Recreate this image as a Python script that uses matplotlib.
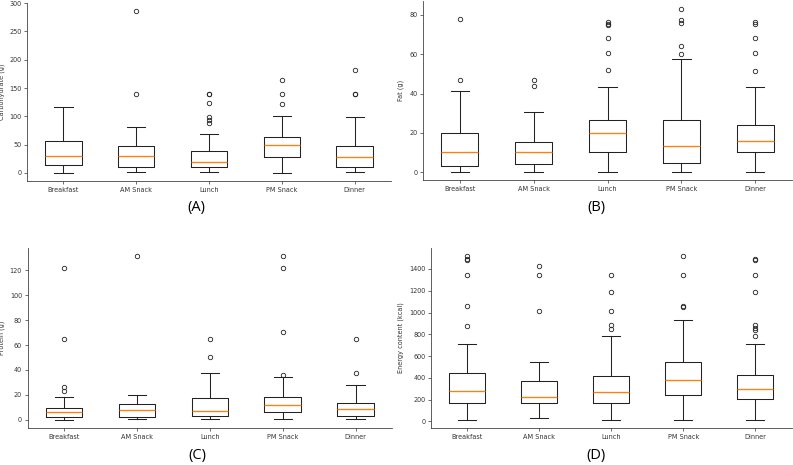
import matplotlib
matplotlib.use("Agg")
import matplotlib.pyplot as plt

meals = ["Breakfast", "AM Snack", "Lunch", "PM Snack", "Dinner"]

# (whislo, q1, median, q3, whishi) per meal, plus outliers
carb_box = [(0, 14, 30, 56.5, 116.7), (1, 11.3, 30, 47.6, 80.4), (1, 11, 19.6, 38.7, 69),
            (0, 28.6, 50, 64.3, 101), (1, 11, 28, 47.6, 99.4)]
carb_out = [[], [139, 286], [89, 93, 99, 124, 139, 140], [122.6, 139, 164.9], [139, 140, 182.7]]

fat_box = [(0, 3.05, 10.2, 20.2, 41.5), (0, 4.1, 10.5, 15.6, 30.5), (0, 10.2, 19.8, 26.4, 43.2),
           (0, 4.7, 13.2, 26.8, 57.6), (0, 10.2, 15.8, 24.1, 43.2)]
fat_out = [[46.9, 78], [43.7, 46.8], [52.2, 60.7, 68.3, 74.6, 75.6, 76.3],
           [60, 64, 75.9, 77.6, 82.9], [51.4, 60.7, 68.3, 75.6, 76.3]]

prot_box = [(0, 2.1, 6.2, 9.1, 18), (0.8, 2.1, 8.1, 12.6, 19.9), (0.8, 2.7, 7, 17.7, 37.6),
            (0.8, 6.2, 11.8, 18, 34.4), (0.8, 3, 8.6, 13.2, 27.9)]
prot_out = [[22.8, 26.6, 65, 122], [131.3], [50.2, 65], [35.7, 70.6, 122, 131.3], [37.6, 65]]

energy_box = [(15, 172.7, 280.6, 441, 709), (31, 172, 225, 373, 542.7), (15, 172, 274, 419, 786),
              (15, 243.6, 382, 549, 931), (15, 206.6, 302, 422, 709)]
energy_out = [[872, 1063, 1341, 1483, 1495, 1517], [1014, 1341, 1424], [851, 884, 1014, 1190, 1341],
              [1050, 1058, 1341, 1517], [783, 842, 860, 888, 1190, 1341, 1480, 1490]]

ylabels = ["Carbohydrate (g)", "Fat (g)", "Protein (g)", "Energy content (kcal)"]
panel_tags = ["(A)", "(B)", "(C)", "(D)"]

W, H = 793, 465
fig = plt.figure(figsize=(W / 100, H / 100), dpi=100)

# axes rectangles in pixels: left, top, right, bottom
rects = [(27, 3, 391, 181), (423, 1, 792, 180.5), (27.5, 248, 392, 428), (431, 248, 791.5, 428)]
tag_pos = [(196, 208), (596, 208), (197, 455), (596, 455)]
ylab_x = [5, 404, 5, 404]


def make_stats(boxes, outs):
    stats = []
    for (lo, q1, med, q3, hi), fl in zip(boxes, outs):
        stats.append(dict(whislo=lo, q1=q1, med=med, q3=q3, whishi=hi, fliers=fl))
    return stats


datasets = [(carb_box, carb_out), (fat_box, fat_out), (prot_box, prot_out), (energy_box, energy_out)]

for i, (boxes, outs) in enumerate(datasets):
    l, t, r, b = rects[i]
    ax = fig.add_axes([l / W, 1 - b / H, (r - l) / W, (b - t) / H])
    lw = 0.75
    ax.bxp(make_stats(boxes, outs),
           boxprops=dict(color="#222222", linewidth=lw),
           whiskerprops=dict(color="#222222", linewidth=lw),
           capprops=dict(color="#222222", linewidth=lw),
           medianprops=dict(color="#ff7f0e", linewidth=0.95),
           flierprops=dict(marker="o", markersize=3.2, markerfacecolor="none",
                           markeredgecolor="#222222", markeredgewidth=0.6))
    ax.set_xticks(range(1, 6))
    ax.set_xticklabels(meals)
    ax.spines["top"].set_visible(False)
    ax.spines["right"].set_visible(False)
    for s in ("left", "bottom"):
        ax.spines[s].set_linewidth(0.6)
        ax.spines[s].set_color("#444444")
    ax.tick_params(labelsize=4.7, length=2, width=0.5, pad=2, colors="#333333")
    ax.set_ylabel(ylabels[i], fontsize=4.7, color="#333333")
    ax.yaxis.set_label_coords((ylab_x[i] - l) / (r - l), 0.5)
    tx, ty = tag_pos[i]
    fig.text(tx / W, 1 - ty / H, panel_tags[i], fontsize=10.5, family="Open Sans",
             ha="center", va="center")

fig.savefig("out.png", dpi=100)
